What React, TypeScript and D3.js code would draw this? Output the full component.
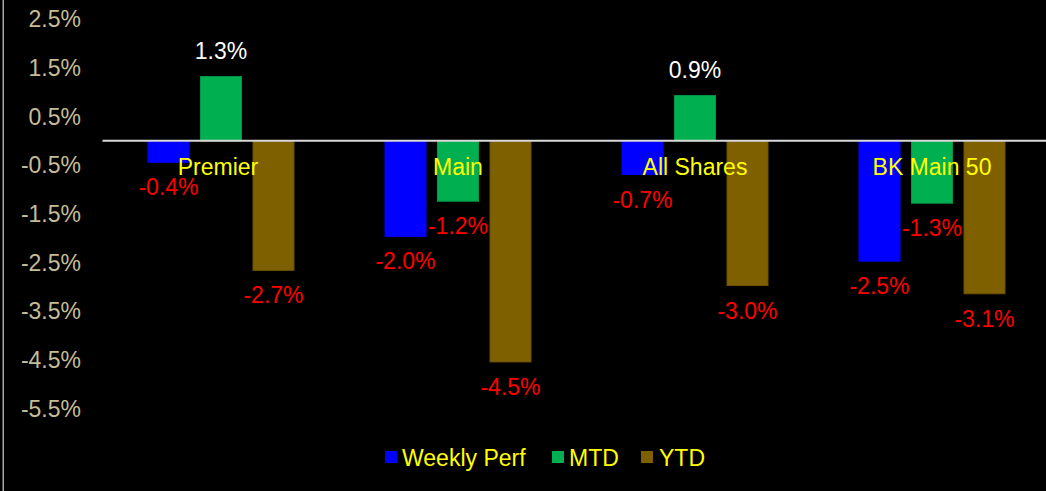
import React from 'react';
import * as d3 from 'd3';

const categories = ['Premier', 'Main', 'All Shares', 'BK Main 50'];
const seriesNames = ['Weekly Perf', 'MTD', 'YTD'];
const weekly = [-0.44, -1.96, -0.69, -2.47];
const mtd = [1.32, -1.24, 0.93, -1.28];
const ytd = [-2.66, -4.54, -2.97, -3.14];
const yTicks = [2.5, 1.5, 0.5, -0.5, -1.5, -2.5, -3.5, -4.5, -5.5];

const W = 1046;
const H = 491;
const colors = ['#0000ff', '#00b050', '#7f6000'];
const strokes = ['#0000ff', '#00974a', '#6b5200'];
const font = 'Arial, "Liberation Sans", sans-serif';
const fs = 23;

const App = () => {
  const values = [weekly, mtd, ytd];

  const x0 = d3.scaleBand().domain(categories).range([102.5, 1050.5]).padding(0);
  const x1 = d3.scaleBand().domain(seriesNames)
    .range([0, x0.bandwidth()])
    .paddingInner(0.2)
    .paddingOuter(0.857);
  const y = d3.scaleLinear().domain([-5.5, 2.5]).range([408.7, 19.1]);
  const fmt = (v: number) => `${v.toFixed(1)}%`;

  const legendItems = [
    { name: seriesNames[0], sq: 385, tx: 402 },
    { name: seriesNames[1], sq: 552, tx: 569 },
    { name: seriesNames[2], sq: 641, tx: 659 },
  ];

  return (
    <svg width={W} height={H} style={{ position: 'absolute', left: 0, top: 0, display: 'block' }}
      fontFamily={font}>
      <rect x={0} y={0} width={W} height={H} fill="#000" />
      <rect x={2.5} y={0} width={1.5} height={H} fill="#a6a6a6" />

      {yTicks.map(t => (
        <text key={t} x={81} y={y(t)} dy="0.35em" textAnchor="end" fontSize={fs} fill="#c4bd97">
          {fmt(t)}
        </text>
      ))}

      {categories.map((c, ci) => (
        <g key={c} transform={`translate(${x0(c)},0)`}>
          {seriesNames.map((s, si) => {
            const v = values[si][ci];
            const top = Math.min(y(v), y(0));
            const h = Math.abs(y(v) - y(0));
            return (
              <rect key={s} x={x1(s)! + 0.5} y={top} width={x1.bandwidth() - 1} height={h}
                fill={colors[si]} stroke={strokes[si]} strokeWidth={1} />
            );
          })}
        </g>
      ))}

      <line x1={102.5} x2={W} y1={y(0)} y2={y(0)} stroke="#d9d9d9" strokeWidth={2} />

      {categories.map((c, ci) => (
        <g key={c} transform={`translate(${x0(c)},0)`}>
          {seriesNames.map((s, si) => {
            const v = values[si][ci];
            const cy = v >= 0 ? y(v) - 25.5 : y(v) + 25;
            return (
              <text key={s} x={x1(s)! + x1.bandwidth() / 2} y={cy} dy="0.35em" textAnchor="middle"
                fontSize={fs} fill={v >= 0 ? '#ffffff' : '#ff0000'}>
                {fmt(v)}
              </text>
            );
          })}
          <text x={x0.bandwidth() / 2 - (ci === 0 ? 3 : 0)} y={167} dy="0.35em" textAnchor="middle"
            fontSize={fs} fill="#ffff00">
            {c}
          </text>
        </g>
      ))}

      {legendItems.map((d, i) => (
        <g key={d.name}>
          <rect x={d.sq} y={451} width={12} height={12} fill={colors[i]} />
          <text x={d.tx} y={458} dy="0.35em" fontSize={fs} fill="#ffff00">{d.name}</text>
        </g>
      ))}
    </svg>
  );
};

export default App;
